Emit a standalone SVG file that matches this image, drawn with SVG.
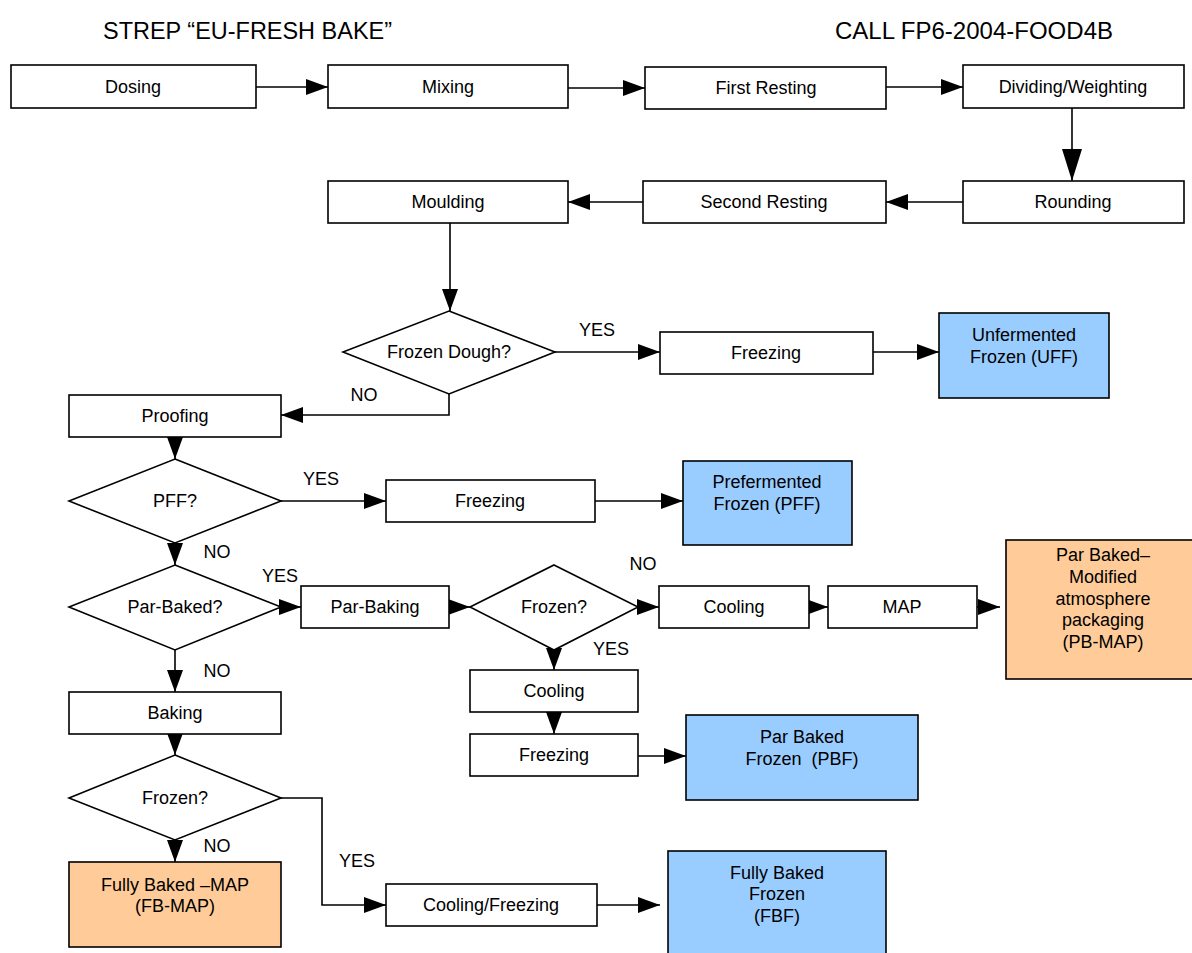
<svg xmlns="http://www.w3.org/2000/svg" width="1192" height="953" viewBox="0 0 1192 953">
<style>
.b{fill:#fff;stroke:#000;stroke-width:1.6}
.blue{fill:#99CCFF;stroke:#000;stroke-width:1.6}
.or{fill:#FFCC99;stroke:#000;stroke-width:1.6}
.d{fill:#fff;stroke:#000;stroke-width:1.6}
.t{font-family:"Liberation Sans",Arial,sans-serif;font-size:18px;fill:#000;text-anchor:middle}
.ttl{font-family:"Liberation Sans",Arial,sans-serif;font-size:24px;fill:#000}
.c{fill:none;stroke:#000;stroke-width:1.6}
</style>
<defs>
<marker id="a" markerUnits="userSpaceOnUse" markerWidth="22" markerHeight="18" refX="22" refY="9" orient="auto"><path d="M0,1 L22,9 L0,17 z" fill="#000"/></marker>
<marker id="al" markerUnits="userSpaceOnUse" markerWidth="32" markerHeight="22" refX="32" refY="11" orient="auto"><path d="M0,1 L32,11 L0,21 z" fill="#000"/></marker>
</defs>
<rect width="1192" height="953" fill="#fff"/>
<text class="ttl" x="103" y="39" textLength="289" lengthAdjust="spacingAndGlyphs">STREP “EU-FRESH BAKE”</text>
<text class="ttl" x="835" y="39" textLength="278" lengthAdjust="spacingAndGlyphs">CALL FP6-2004-FOOD4B</text>
<g id="connectors">
<path class="c" d="M256,87 H328" marker-end="url(#a)"/>
<path class="c" d="M568,88 H645" marker-end="url(#a)"/>
<path class="c" d="M886,87 H963" marker-end="url(#a)"/>
<path class="c" d="M1072,108 V181" marker-end="url(#al)"/>
<path class="c" d="M963,202 H886" marker-end="url(#a)"/>
<path class="c" d="M643,202 H568" marker-end="url(#a)"/>
<path class="c" d="M450,223 V311" marker-end="url(#a)"/>
<path class="c" d="M555,352 H660" marker-end="url(#a)"/>
<path class="c" d="M873,352 H939" marker-end="url(#a)"/>
<path class="c" d="M449,394 V415 H281" marker-end="url(#a)"/>
<path class="c" d="M175,437 V459" marker-end="url(#a)"/>
<path class="c" d="M281,501 H386" marker-end="url(#a)"/>
<path class="c" d="M595,501 H683" marker-end="url(#a)"/>
<path class="c" d="M175,543 V565" marker-end="url(#a)"/>
<path class="c" d="M281,607 H301" marker-end="url(#a)"/>
<path class="c" d="M449,607 H470" marker-end="url(#a)"/>
<path class="c" d="M638,607 H659" marker-end="url(#a)"/>
<path class="c" d="M809,607 H828" marker-end="url(#a)"/>
<path class="c" d="M977,607 H1000" marker-end="url(#a)"/>
<path class="c" d="M554,650 V670" marker-end="url(#a)"/>
<path class="c" d="M554,712 V734" marker-end="url(#a)"/>
<path class="c" d="M638,756 H686" marker-end="url(#a)"/>
<path class="c" d="M175,650 V692" marker-end="url(#a)"/>
<path class="c" d="M175,734 V755" marker-end="url(#a)"/>
<path class="c" d="M175,840 V862" marker-end="url(#a)"/>
<path class="c" d="M281,798 H322 V905 H386" marker-end="url(#a)"/>
<path class="c" d="M597,905 H660" marker-end="url(#a)"/>
</g>
<g id="labels">
<text class="t" x="597" y="336">YES</text>
<text class="t" x="364" y="401">NO</text>
<text class="t" x="321" y="485">YES</text>
<text class="t" x="217" y="558">NO</text>
<text class="t" x="280" y="582">YES</text>
<text class="t" x="643" y="570">NO</text>
<text class="t" x="611" y="655">YES</text>
<text class="t" x="217" y="677">NO</text>
<text class="t" x="217" y="852">NO</text>
<text class="t" x="357" y="867">YES</text>
</g>
<g id="dosing"><rect class="b" x="11" y="65" width="245" height="43"/><text class="t" x="133" y="93">Dosing</text></g>
<g id="mixing"><rect class="b" x="328" y="65" width="240" height="43"/><text class="t" x="448" y="93">Mixing</text></g>
<g id="first-resting"><rect class="b" x="645" y="67" width="241" height="42"/><text class="t" x="766" y="94">First Resting</text></g>
<g id="dividing"><rect class="b" x="963" y="65" width="221" height="43"/><text class="t" x="1073" y="93">Dividing/Weighting</text></g>
<g id="rounding"><rect class="b" x="963" y="181" width="221" height="42"/><text class="t" x="1073" y="208">Rounding</text></g>
<g id="second-resting"><rect class="b" x="643" y="181" width="243" height="42"/><text class="t" x="764" y="208">Second Resting</text></g>
<g id="moulding"><rect class="b" x="328" y="181" width="240" height="42"/><text class="t" x="448" y="208">Moulding</text></g>
<g id="frozen-dough"><polygon class="d" points="449,311 555,352 449,394 343,352"/><text class="t" x="449" y="358">Frozen Dough?</text></g>
<g id="freezing1"><rect class="b" x="660" y="332" width="213" height="42"/><text class="t" x="766" y="359">Freezing</text></g>
<g id="uff"><rect class="blue" x="939" y="313" width="170" height="85"/><text class="t" x="1024" y="341">Unfermented</text><text class="t" x="1024" y="363">Frozen (UFF)</text></g>
<g id="proofing"><rect class="b" x="69" y="395" width="212" height="42"/><text class="t" x="175" y="422">Proofing</text></g>
<g id="pff-q"><polygon class="d" points="175,459 281,501 175,543 69,501"/><text class="t" x="175" y="507">PFF?</text></g>
<g id="freezing2"><rect class="b" x="386" y="480" width="209" height="42"/><text class="t" x="490" y="507">Freezing</text></g>
<g id="pff"><rect class="blue" x="683" y="461" width="169" height="84"/><text class="t" x="767" y="488">Prefermented</text><text class="t" x="767" y="510">Frozen (PFF)</text></g>
<g id="par-baked-q"><polygon class="d" points="175,565 281,607 175,650 69,607"/><text class="t" x="175" y="613">Par-Baked?</text></g>
<g id="par-baking"><rect class="b" x="301" y="586" width="148" height="42"/><text class="t" x="375" y="613">Par-Baking</text></g>
<g id="frozen-q1"><polygon class="d" points="554,565 638,607 554,650 470,607"/><text class="t" x="554" y="613">Frozen?</text></g>
<g id="cooling1"><rect class="b" x="659" y="586" width="150" height="42"/><text class="t" x="734" y="613">Cooling</text></g>
<g id="map"><rect class="b" x="828" y="586" width="149" height="42"/><text class="t" x="902" y="613">MAP</text></g>
<g id="pb-map"><rect class="or" x="1006" y="540" width="200" height="139"/><text class="t" x="1103" y="561">Par Baked–</text><text class="t" x="1103" y="583">Modified</text><text class="t" x="1103" y="605">atmosphere</text><text class="t" x="1103" y="626">packaging</text><text class="t" x="1103" y="648">(PB-MAP)</text></g>
<g id="cooling2"><rect class="b" x="470" y="670" width="168" height="42"/><text class="t" x="554" y="697">Cooling</text></g>
<g id="freezing3"><rect class="b" x="470" y="734" width="168" height="42"/><text class="t" x="554" y="761">Freezing</text></g>
<g id="pbf"><rect class="blue" x="686" y="715" width="232" height="85"/><text class="t" x="802" y="743">Par Baked</text><text class="t" x="802" y="765" xml:space="preserve">Frozen  (PBF)</text></g>
<g id="baking"><rect class="b" x="69" y="692" width="212" height="42"/><text class="t" x="175" y="719">Baking</text></g>
<g id="frozen-q2"><polygon class="d" points="175,755 281,798 175,840 69,798"/><text class="t" x="175" y="804">Frozen?</text></g>
<g id="fb-map"><rect class="or" x="69" y="862" width="212" height="85"/><text class="t" x="175" y="891">Fully Baked –MAP</text><text class="t" x="175" y="912">(FB-MAP)</text></g>
<g id="cooling-freezing"><rect class="b" x="386" y="884" width="211" height="42"/><text class="t" x="491" y="911">Cooling/Freezing</text></g>
<g id="fbf"><rect class="blue" x="668" y="851" width="218" height="110"/><text class="t" x="777" y="879">Fully Baked</text><text class="t" x="777" y="900">Frozen</text><text class="t" x="777" y="922">(FBF)</text></g>
</svg>
